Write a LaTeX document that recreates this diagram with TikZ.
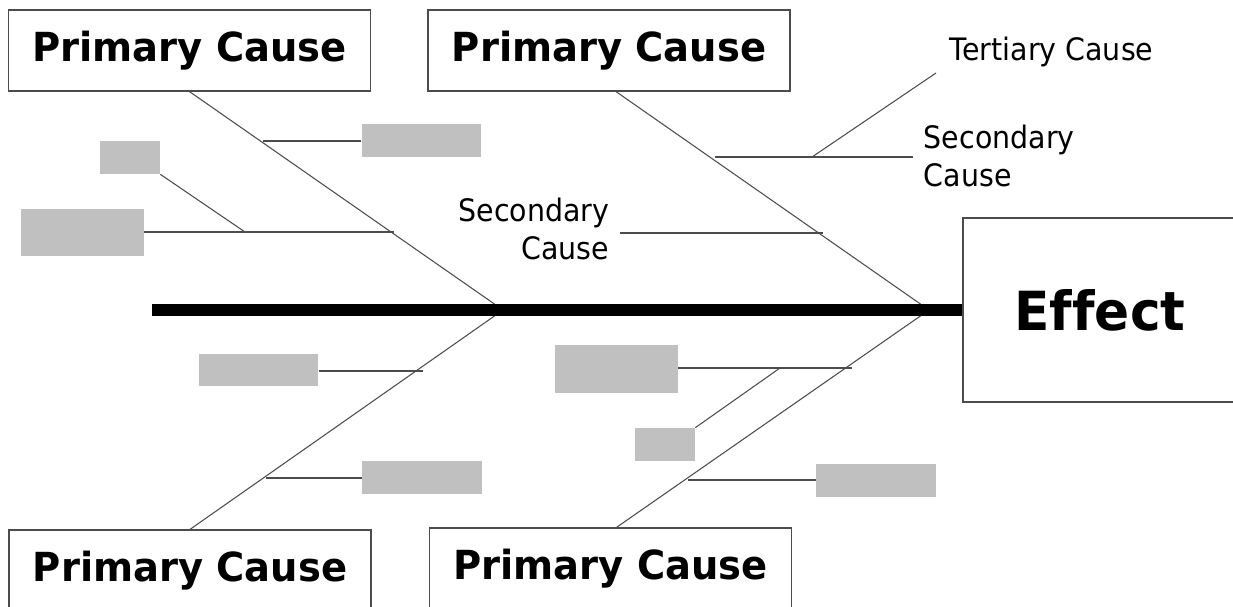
\documentclass[tikz,border=0pt]{standalone}
\usepackage{fontspec}
\setmainfont{DejaVu Sans}[FakeStretch=0.92]
\newfontfamily\headfont{DejaVu Sans}[FakeStretch=0.96, Ligatures=NoCommon]
\usetikzlibrary{calc}
\definecolor{boxgray}{HTML}{C0C0C0}
\tikzset{
	primary/.style={draw=black!70, line width=0.7pt, minimum width=7.24cm, minimum height=1.62cm, inner sep=0pt, font=\headfont\bfseries\fontsize{22.8}{27}\selectfont},
	filler/.style={fill=boxgray, inner sep=0pt, minimum height=0.66cm},
	greywide/.style={filler, minimum width=2.4cm},
	greysmall/.style={filler, minimum width=1.2cm},
	greybig/.style={filler, minimum width=2.46cm, minimum height=0.95cm},
	note/.style={inner xsep=6pt, inner ysep=0pt, font=\fontsize{17.6}{21.6}\selectfont},
	bone/.style={draw=black!70, line width=0.6pt},
}

\begin{document}
\begin{tikzpicture}[x=0.02cm, y=-0.02cm]
		%%%%% START %%%%%
		\useasboundingbox (0,0) rectangle (1233,607);
		\clip (0,0) rectangle (1233,607);
		
		\node[primary] (pA) at (189.5,50.5) {Primary Cause};
		\node[primary] (pB) at (609,50.5) {Primary Cause};
		\node[primary] (pC) at (190,570.5) {Primary Cause};
		\node[primary] (pD) at (610.5,568.5) {Primary Cause};
		\node[draw=black!70, line width=0.7pt, minimum width=5.48cm, minimum height=3.68cm, font=\headfont\bfseries\fontsize{30.7}{36}\selectfont] (eff) at (1100,310) {Effect};
		
		\node[greywide] (g1) at (421.5,140.5) {};
		\node[greysmall] (g2) at (130,157.5) {};
		\node[greybig] (g3) at (82.5,232.5) {};
		\node[greywide] (g4) at (258.5,370) {};
		\node[greywide] (g5) at (422,477.5) {};
		\node[greybig] (g6) at (616.5,369) {};
		\node[greysmall] (g7) at (665,444.5) {};
		\node[greywide] (g8) at (876,480.5) {};
		
		\node[note, align=left, anchor=west] (sR) at (913,156) {Secondary\\Cause};
		\node[note, align=right, anchor=east] (sL) at (620,229) {Secondary\\Cause};
		\node[note, anchor=west] (tC) at (939,52) {Tertiary Cause};
		
		\coordinate (tail) at (152,310);
		\coordinate (jA) at (503,310);
		\coordinate (jB) at (929,310);
		\coordinate (a1) at (263,141);
		\coordinate (a2) at (394,232);
		\coordinate (a3) at (245,232);
		\coordinate (b1) at (715,157);
		\coordinate (b2) at (812,157);
		\coordinate (b2e) at (936,73);
		\coordinate (b3) at (823,233);
		\coordinate (c1) at (423,371);
		\coordinate (c2) at (266,478);
		\coordinate (d1) at (852,368);
		\coordinate (d2) at (780,368);
		\coordinate (d3) at (688,480);
		
		\draw[bone] (pA.south) -- (jA);
		\draw[bone] (a1 -| g1.west) -- (a1);
		\draw[bone] (a2 -| g3.east) -- (a2);
		\draw[bone] (g2.south east) -- (a3);
		
		\draw[bone] ($(pB.south)+(7,0)$) -- (jB);
		\draw[bone] (b1) -- (b1 -| sR.west);
		\draw[bone] (b2) -- (b2e);
		\draw[bone] (b3 -| sL.east) -- (b3);
		
		\draw[bone] (jA) -- (pC.north);
		\draw[bone] (c1 -| g4.east) -- (c1);
		\draw[bone] (c2) -- (c2 -| g5.west);
		
		\draw[bone] (jB) -- ($(pD.north)+(6,0)$);
		\draw[bone] (d1 -| g6.east) -- (d1);
		\draw[bone] (g7.north east) -- (d2);
		\draw[bone] (d3) -- (d3 -| g8.west);
		
		\draw[line width=6.6pt] (tail) -- (eff.west);
		
		%%%%% END %%%%%
	\end{tikzpicture}
\end{document}
